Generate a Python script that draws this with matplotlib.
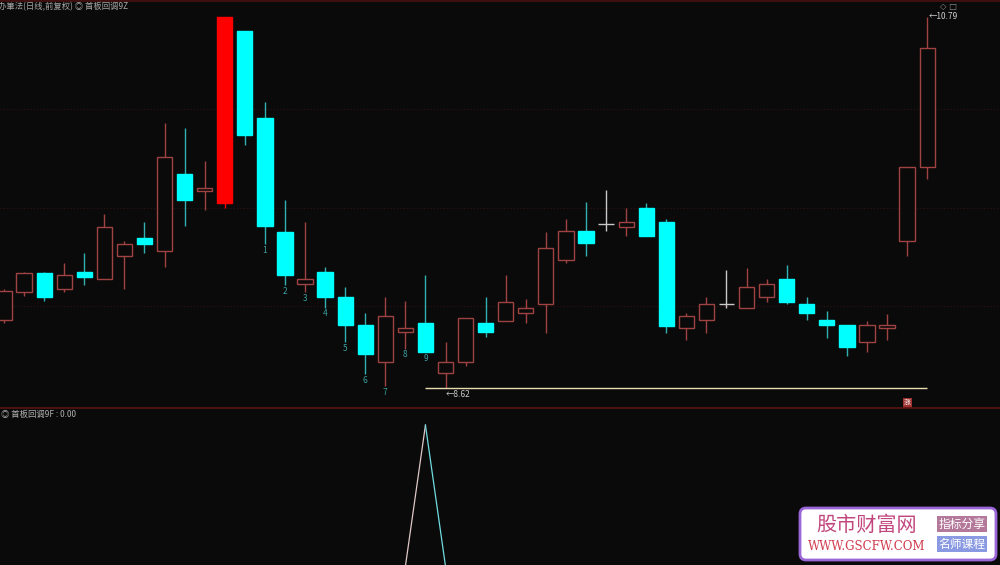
import numpy as np
import matplotlib.pyplot as plt
from matplotlib.patches import FancyBboxPatch

plt.rcParams['font.family'] = ['Noto Sans CJK SC', 'DejaVu Sans']

# 日K线数据 (开, 高, 低, 收)
opens = [9.02, 9.18, 9.29, 9.20, 9.30, 9.26, 9.39, 9.50, 9.42, 9.87,
         9.77, 9.70, 10.71, 10.20, 9.53, 9.23, 9.30, 9.15, 8.99, 8.77,
         8.95, 9.00, 8.71, 8.77, 9.00, 9.01, 9.06, 9.11, 9.37, 9.54,
         9.58, 9.56, 9.67, 9.59, 8.97, 9.02, 9.11, 9.09, 9.15, 9.26,
         9.11, 9.02, 8.99, 8.89, 8.97, 9.48, 9.91]
highs = [9.20, 9.30, 9.30, 9.35, 9.41, 9.64, 9.48, 9.59, 10.17, 10.14,
         9.95, 10.79, 10.71, 10.29, 9.72, 9.59, 9.33, 9.21, 9.06, 9.15,
         9.13, 9.28, 8.89, 9.03, 9.15, 9.28, 9.14, 9.53, 9.61, 9.71,
         9.78, 9.67, 9.70, 9.61, 9.06, 9.15, 9.31, 9.32, 9.26, 9.34,
         9.15, 9.07, 8.99, 9.01, 9.05, 9.91, 10.79]
lows = [9.00, 9.16, 9.13, 9.18, 9.22, 9.26, 9.20, 9.41, 9.33, 9.57,
        9.66, 9.67, 10.04, 9.46, 9.22, 9.18, 9.09, 8.89, 8.70, 8.63,
        8.85, 8.83, 8.62, 8.75, 8.92, 9.01, 9.00, 8.94, 9.35, 9.39,
        9.54, 9.51, 9.51, 8.94, 8.90, 8.94, 9.09, 9.09, 9.12, 9.11,
        9.02, 8.91, 8.81, 8.83, 8.90, 9.39, 9.84]
closes = [9.19, 9.29, 9.15, 9.28, 9.27, 9.56, 9.46, 9.46, 9.97, 9.72,
          9.79, 10.79, 10.10, 9.57, 9.28, 9.26, 9.15, 8.99, 8.82, 9.04,
          8.97, 8.83, 8.77, 9.03, 8.95, 9.12, 9.09, 9.44, 9.54, 9.47,
          9.58, 9.59, 9.51, 8.98, 9.04, 9.11, 9.11, 9.21, 9.23, 9.12,
          9.06, 8.99, 8.86, 8.99, 8.99, 9.91, 10.61]
limit_up = [11]

# 首板回调9 计数
count_idx = [13, 14, 15, 16, 17, 18, 19, 20, 21]
count_txt = ['1', '2', '3', '4', '5', '6', '7', '8', '9']

# 副图指标 首板回调9F
signal = [0, 0, 0, 0, 0, 0, 0, 0, 0, 0,
          0, 0, 0, 0, 0, 0, 0, 0, 0, 0,
          0, 1, 0, 0, 0, 0, 0, 0, 0, 0,
          0, 0, 0, 0, 0, 0, 0, 0, 0, 0,
          0, 0, 0, 0, 0, 0, 0]

grid_levels = [10.25, 9.67, 9.10]
support = 8.62
support_from, support_to = 21, 46

bg = '#0a0a0a'
up_col = '#a04242'
dn_col = '#00ffff'
flat_col = '#c8c8c8'

fig = plt.figure(figsize=(10, 5.65), dpi=100, facecolor=bg)

# 主图
ax = fig.add_axes([0, 1 - 408 / 565, 1, 408 / 565], facecolor=bg)
ax.set_xlim(-0.2, 49.63)
ax.set_ylim(8.503, 10.889)
ax.axis('off')

for g in grid_levels:
    ax.axhline(g, color='#341212', lw=0.8, ls=(0, (1, 2)), zorder=0)

x = np.arange(len(opens))
for i in x:
    o, h, l, c = opens[i], highs[i], lows[i], closes[i]
    if i in limit_up:
        col, fill = '#ff0000', '#ff0000'
    elif c > o:
        col, fill = up_col, bg
    elif c < o:
        col, fill = dn_col, dn_col
    else:
        col, fill = flat_col, bg
    wick_col = '#30b0b0' if col == dn_col else col
    ax.vlines(i, l, h, color=wick_col, lw=1, zorder=1)
    body = abs(c - o)
    if body < 0.004:
        ax.hlines(o, i - 0.38, i + 0.38, color=col, lw=1, zorder=2)
    else:
        ax.bar(i, body, bottom=min(o, c), width=0.76, facecolor=fill,
               edgecolor=col, lw=1, zorder=2)

for i, t in zip(count_idx, count_txt):
    ax.text(i, lows[i] - 0.01, t, color='#3aa0a0', fontsize=6,
            ha='center', va='top')

ax.hlines(support, support_from, support_to, color='#e8dcb0', lw=1, zorder=3)
ax.text(22, support - 0.04, '←8.62', color='#c8c8c8', fontsize=6,
        ha='left', va='center')
ax.text(46.1, 10.79, '←10.79', color='#d0d0d0', fontsize=6,
        ha='left', va='center')
ax.text(45, 8.53, '涨', color='white', fontsize=5, ha='center', va='center',
        bbox=dict(boxstyle='square,pad=0.15', fc='#a03030', ec='none'))

# 副图
ax2 = fig.add_axes([0, 0, 1, 155 / 565], facecolor=bg)
ax2.set_xlim(-0.2, 49.63)
ax2.set_ylim(0.01, 1.107)
ax2.axis('off')
for i in range(len(signal) - 1):
    if signal[i] == signal[i + 1]:
        continue
    seg_col = '#e0c8c8' if signal[i + 1] > signal[i] else '#70dce0'
    ax2.plot([i, i + 1], [signal[i], signal[i + 1]], color=seg_col, lw=0.9)

# 分隔线与标题
fig.add_artist(plt.Line2D([0, 1], [1 - 408 / 565] * 2, color='#5a1414', lw=1.2))
fig.add_artist(plt.Line2D([0, 1], [0.999, 0.999], color='#4a1010', lw=1.2))
fig.text(-0.002, 1 - 7 / 565, '办筆法(日线,前复权) ◎ 首板回调9Z', color='#a8a8a8',
         fontsize=6, ha='left', va='center')
fig.text(0.001, 1 - 414 / 565, '◎ 首板回调9F : 0.00', color='#b0b0b0',
         fontsize=6, ha='left', va='center')
fig.text(0.940, 1 - 6 / 565, '◇ □', color='#909090', fontsize=6,
         ha='left', va='center', family='DejaVu Sans')

# 水印
wm = fig.add_axes([797 / 1000, 2 / 565, 202 / 1000, 58 / 565])
wm.set_xlim(0, 202)
wm.set_ylim(58, 0)
wm.axis('off')
wm.add_patch(FancyBboxPatch((3, 3), 196, 52, boxstyle='round,pad=0,rounding_size=6',
                            fc='white', ec='#9a66d8', lw=2))
wm.text(70, 20, '股市财富网', color='#c2467e', fontsize=14.5, ha='center', va='center')
wm.text(70, 41, 'WWW.GSCFW.COM', color='#d03a4c', fontsize=8.5, ha='center',
        va='center', family='DejaVu Serif')
wm.text(165, 19, '指标分享', color='white', fontsize=8.5, ha='center', va='center',
        bbox=dict(boxstyle='square,pad=0.15', fc='#b4789a', ec='none'))
wm.text(165, 39, '名师课程', color='white', fontsize=8.5, ha='center', va='center',
        bbox=dict(boxstyle='square,pad=0.15', fc='#8a9ae2', ec='none'))

fig.savefig('out.png', dpi=100, facecolor=bg)
